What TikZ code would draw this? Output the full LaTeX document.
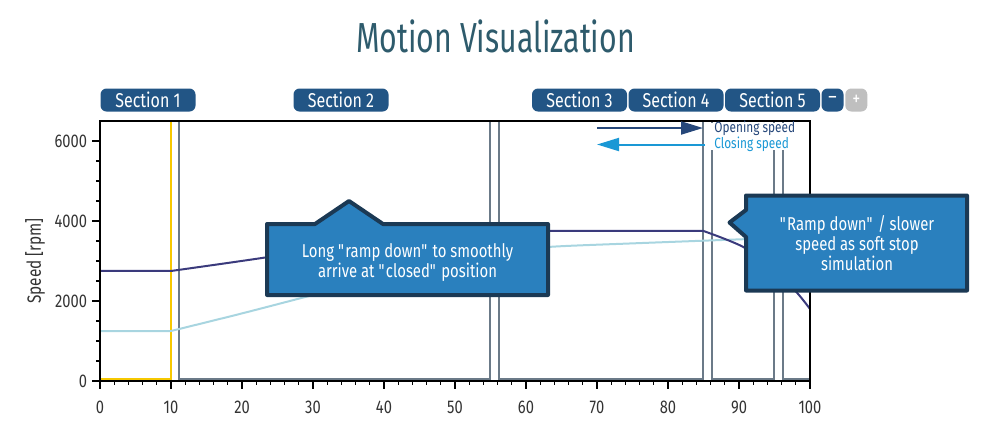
\documentclass[tikz,border=0pt]{standalone}
\usepackage{fontspec}
\setmainfont{Fira Sans}[FakeStretch=0.8]
\newfontfamily\titlefont{Fira Sans}[FakeStretch=0.72]
\usepackage{tikz}
\usetikzlibrary{arrows.meta}

\definecolor{tabblue}{HTML}{225585}
\definecolor{titleteal}{HTML}{2E5B6C}
\definecolor{openline}{HTML}{3A3A7C}
\definecolor{closeline}{HTML}{A8D5E0}
\definecolor{legopen}{HTML}{26477A}
\definecolor{legclose}{HTML}{1A98D5}
\definecolor{notefill}{HTML}{2A80BE}
\definecolor{noteedge}{HTML}{1B3954}
\definecolor{secgray}{HTML}{6B7A88}
\definecolor{secyellow}{HTML}{F6C800}
\definecolor{ticktext}{HTML}{333333}

\newcommand{\qt}{\textquotedbl}

\tikzset{
	tabbox/.style={fill=tabblue, text=white, rounded corners=3pt, inner sep=0pt,
		minimum width=47.5pt, minimum height=11.5pt, font=\fontsize{10}{12}\selectfont},
	notebox/.style={fill=notefill, draw=noteedge, line width=2pt, line join=round},
	notetext/.style={text=white, align=center, inner sep=0pt, font=\fontsize{9.3}{10}\selectfont},
	ticklab/.style={text=ticktext, inner sep=0pt, font=\fontsize{9.2}{10}\selectfont},
	legarrow/.style={line width=1pt, -{Triangle[length=11pt, width=6.5pt]}}
}

\begin{document}
\begin{tikzpicture}[x=0.5pt, y=-0.5pt]
	\useasboundingbox (0,0) rectangle (989,441);

	\node[text=titleteal, anchor=base, inner sep=0pt, font=\titlefont\fontsize{21}{24}\selectfont] (title) at (495.5,52.7) {Motion Visualization};

	\node[tabbox] (sec1) at (148,100) {Section 1};
	\node[tabbox] (sec2) at (341,100) {Section 2};
	\node[tabbox] (sec3) at (579.5,100) {Section 3};
	\node[tabbox] (sec4) at (676,100) {Section 4};
	\node[tabbox] (sec5) at (772.5,100) {Section 5};
	\node[tabbox, minimum width=11pt] (minus) at (832.5,100) {--};
	\node[tabbox, minimum width=11pt, fill=black!25] (plus) at (856.3,100) {+};

	\begin{scope}[shift={(100,381)}, x=3.55pt, y=0.02pt]
		\draw[secyellow, line width=1.1pt] (0,40) rectangle (10,6500);
		\foreach \a/\b in {11.1/54.9, 56.2/84.9, 86.2/94.9, 96.2/100}
			\draw[secgray, line width=1pt] (\a,40) rectangle (\b,6500);

		\draw[closeline, line width=1pt] (0,1250) -- (10,1250)
			plot[smooth] coordinates {(10,1250) (20,1690) (30,2150) (40,2600) (50,3000) (57,3250) (64,3360) (75,3440) (90,3540) (100,3600)};
		\draw[openline, line width=1pt] (0,2750) -- (10,2750)
			plot[smooth] coordinates {(10,2750) (23,3080) (35,3420) (45,3660) (53,3750)} -- (85,3750)
			plot[smooth] coordinates {(85,3750) (90.6,3350) (95,2780) (98.2,2200) (100,1800)};

		\draw[black, line width=0.9pt] (0,0) rectangle (100,6500);
		\foreach \v in {500,1000,...,6000}
			\draw[black, line width=0.6pt] (0,\v) -- ++(-2pt,0);
		\foreach \v in {0,2000,4000,6000}
			\draw[black, line width=0.6pt] (0,\v) -- ++(-4pt,0);
		\foreach \t in {0,2,...,100}
			\draw[black, line width=0.6pt] (\t,0) -- ++(0,-2pt);
		\foreach \t in {0,10,...,100}
			\draw[black, line width=0.6pt] (\t,0) -- ++(0,-4pt);

		\foreach \v in {0,2000,4000,6000}
			\node[ticklab, anchor=east] (yl\v) at ([xshift=-6.3pt]0,\v) {\v};
		\foreach \t in {0,10,...,100}
			\node[ticklab, anchor=north] (xl\t) at ([yshift=-10pt]\t,0) {\t};
	\end{scope}

	\node[text=ticktext, rotate=90, inner sep=0pt, font=\fontsize{9.6}{10}\selectfont] (ylab) at (35,261) {Speed [rpm]};

	\fill[white] (706,122.5) rectangle (800,150);
	\coordinate (opentail) at (597,128);
	\coordinate (openhead) at (703,128);
	\coordinate (closetail) at (705,144.5);
	\coordinate (closehead) at (597,144.5);
	\path[legarrow, legopen] (opentail) edge (openhead);
	\path[legarrow, legclose] (closetail) edge (closehead);
	\node[anchor=west, inner sep=0pt, text=legopen, font=\fontsize{7.4}{8}\selectfont] (openlab) at (714,128.5) {Opening speed};
	\node[anchor=west, inner sep=0pt, text=legclose, font=\fontsize{7.4}{8}\selectfont] (closelab) at (714,144.5) {Closing speed};

	\draw[notebox] (267,224) -- (315,224) -- (349,201) -- (383,224) -- (548,224) -- (548,295) -- (267,295) -- cycle;
	\node[notetext] (rampnote) at (407.5,262) {Long \qt ramp down\qt{} to smoothly\\arrive at \qt closed\qt{} position};

	\draw[notebox] (746,195.5) -- (967,195.5) -- (967,290.5) -- (746,290.5) -- (746,237) -- (729.5,222.5) -- (746,210) -- cycle;
	\node[notetext] (stopnote) at (857,243) {\qt Ramp down\qt{} / slower\\speed as soft stop\\simulation};

\end{tikzpicture}
\end{document}
